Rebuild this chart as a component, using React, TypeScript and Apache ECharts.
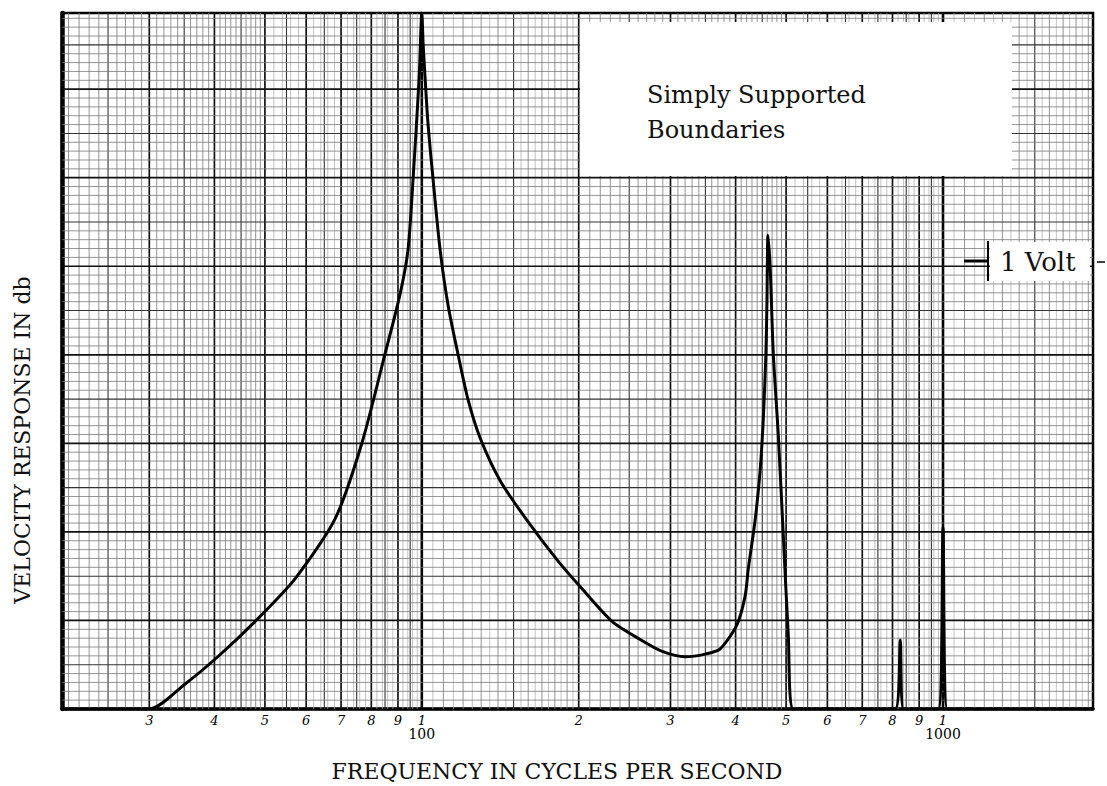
import React, { useEffect, useRef } from "react";
import * as echarts from "echarts";

// ---- axis extents (frequency in cycles per second, response in grid units: 10 per major division)
const X_MIN = 20.4;
const X_MAX = 1940;
const Y_MIN = 0;
const Y_MAX = 78.6;

// ---- curve
const frequency = [
  20.4, 30, 35.1, 40.6, 47.9, 57.1, 68.2, 76.8, 85.0, 90.8,
  94.1, 96.2, 98.8, 100, 100.6, 101.5, 102.8, 105.1, 108.4, 112.3,
  117.4, 122.7, 129.4, 141.3, 159.2, 182.6, 202.8, 231.6, 262.4, 289.3,
  320.2, 349.8, 373.7, 402.3, 417.3, 423, 436.2, 445.9, 452.0, 457.4,
  459.4, 461.5, 466.2, 472.4, 483.1, 493.8, 504.9, 516.1, 809.7, 828,
  840, 979.6, 1000, 1019, 1940,
];
const response = [
  0, 0, 2.8, 5.9, 9.9, 14.7, 21.5, 30.1, 40.1, 46.8,
  51.9, 59.8, 71.1, 78.6, 75.0, 71.1, 66.0, 59.8, 51.9, 45.6,
  40.0, 34.9, 30.6, 25.8, 21.3, 16.7, 13.6, 9.9, 7.85, 6.5,
  5.9, 6.2, 6.8, 9.5, 12.8, 15.8, 21.4, 27.0, 32.7, 40.2,
  45.9, 53.5, 49.6, 40.2, 30.9, 19.6, 8.3, 0, 0, 7.8,
  0, 0, 20.5, 0, 0,
];

// ---- tick labels on the frequency axis
const tickValues = [30, 40, 50, 60, 70, 80, 90, 100, 200, 300, 400, 500, 600, 700, 800, 900, 1000];
const tickDigits = ["3", "4", "5", "6", "7", "8", "9", "1", "2", "3", "4", "5", "6", "7", "8", "9", "1"];
const decadeLabels: Record<number, string> = { 100: "100", 1000: "1000" };

// ---- texts
const xTitle = "FREQUENCY IN CYCLES PER SECOND";
const yTitle = "VELOCITY RESPONSE IN db";
const noteLines = ["Simply Supported", "Boundaries"];
const voltLabel = "1 Volt";

// ---- graph-paper rulings (positions of the printed grid, not data)
function buildRulings(): number[][] {
  const items: number[][] = [];
  const decades = [10, 100, 1000];
  for (const d of decades) {
    for (let k = 100; k < 1000; k += 5) {
      const v = Math.round((k / 100) * d * 1000) / 1000;
      if (v <= X_MIN || v >= X_MAX) continue;
      let level: number;
      if (k % 100 === 0) level = k === 100 ? 3 : 2;
      else if (k % 50 === 0) level = 1;
      else if (k < 200) level = k % 10 === 0 ? 0 : -1;
      else if (k < 500) {
        if (k % 10 !== 0) continue;
        level = 0;
      } else {
        if (k % 20 !== 0) continue;
        level = -1;
      }
      items.push([v, Y_MIN, level, 0]);
    }
  }
  for (let j = 1; j < Y_MAX; j += 1) {
    const level = j % 10 === 0 ? 2 : j % 5 === 0 ? 1 : 0;
    items.push([X_MIN, j, level, 1]);
  }
  return items;
}

const rulingStyle: Record<number, { stroke: string; lineWidth: number }> = {
  3: { stroke: "#000", lineWidth: 2.6 },
  2: { stroke: "#111", lineWidth: 1.7 },
  1: { stroke: "#333", lineWidth: 1.1 },
  0: { stroke: "#7a7a7a", lineWidth: 0.8 },
  [-1]: { stroke: "#a8a8a8", lineWidth: 0.7 },
};

export default function App() {
  const ref = useRef<HTMLDivElement | null>(null);

  useEffect(() => {
    document.body.style.margin = "0";
    if (!ref.current) return;
    const chart = echarts.init(ref.current, null, { renderer: "svg" });
    const serif = "DejaVu Serif";

    const option: any = {
      animation: false,
      backgroundColor: "#fff",
      grid: {
        left: 62,
        right: 14,
        top: 13,
        bottom: 77,
        show: true,
        borderColor: "#000",
        borderWidth: 2.5,
        backgroundColor: "transparent",
      },
      xAxis: {
        type: "log",
        logBase: 10,
        min: X_MIN,
        max: X_MAX,
        axisLine: { show: true, onZero: false, lineStyle: { color: "#000", width: 3.5 } },
        axisTick: { show: false },
        splitLine: { show: false },
        axisLabel: {
          customValues: tickValues,
          margin: 5,
          color: "#000",
          formatter: (value: number) => {
            const idx = tickValues.findIndex((t) => Math.abs(t - value) < 1e-6 * t);
            const digit = idx >= 0 ? tickDigits[idx] : "";
            const rounded = Math.round(value);
            if (decadeLabels[rounded]) return `{n|${digit}}\n{d|${decadeLabels[rounded]}}`;
            return `{n|${digit}}`;
          },
          rich: {
            n: { fontFamily: serif, fontStyle: "italic", fontSize: 13, lineHeight: 13, color: "#000" },
            d: { fontFamily: serif, fontSize: 14, lineHeight: 14, color: "#000" },
          },
        },
      },
      yAxis: {
        type: "value",
        min: Y_MIN,
        max: Y_MAX,
        axisLine: { show: true, onZero: false, lineStyle: { color: "#000", width: 4.5 } },
        axisTick: { show: false },
        axisLabel: { show: false },
        splitLine: { show: false },
      },
      series: [
        {
          type: "custom",
          name: "grid paper",
          coordinateSystem: "cartesian2d",
          silent: true,
          z: 1,
          encode: { x: 0, y: 1 },
          data: buildRulings(),
          renderItem: (_params: any, api: any) => {
            const level = api.value(2);
            const orient = api.value(3);
            let p1: number[];
            let p2: number[];
            if (orient === 0) {
              const v = api.value(0);
              p1 = api.coord([v, Y_MIN]);
              p2 = api.coord([v, Y_MAX]);
            } else {
              const v = api.value(1);
              p1 = api.coord([X_MIN, v]);
              p2 = api.coord([X_MAX, v]);
            }
            const st = rulingStyle[level] || rulingStyle[0];
            return {
              type: "line",
              shape: { x1: p1[0], y1: p1[1], x2: p2[0], y2: p2[1] },
              style: { stroke: st.stroke, lineWidth: st.lineWidth },
            };
          },
        },
        {
          type: "line",
          name: "Velocity response",
          data: frequency.map((f, i) => [f, response[i]]),
          symbol: "none",
          smooth: 0.25,
          clip: true,
          z: 5,
          lineStyle: { color: "#000", width: 3 },
        },
      ],
      graphic: [
        {
          type: "rect",
          z: 100,
          shape: { x: 580, y: 22, width: 432, height: 154 },
          style: { fill: "#fff" },
        },
        {
          type: "text",
          z: 101,
          x: 647,
          y: 95,
          style: { text: noteLines[0], font: `24px "${serif}"`, fill: "#111", textVerticalAlign: "middle" },
        },
        {
          type: "text",
          z: 101,
          x: 647,
          y: 130,
          style: { text: noteLines[1], font: `24px "${serif}"`, fill: "#111", textVerticalAlign: "middle" },
        },
        {
          type: "rect",
          z: 100,
          shape: { x: 990, y: 242, width: 100, height: 39 },
          style: { fill: "#fff" },
        },
        {
          type: "line",
          z: 101,
          shape: { x1: 988, y1: 241, x2: 988, y2: 281 },
          style: { stroke: "#000", lineWidth: 2 },
        },
        {
          type: "line",
          z: 101,
          shape: { x1: 964, y1: 261, x2: 988, y2: 261 },
          style: { stroke: "#000", lineWidth: 3 },
        },
        {
          type: "text",
          z: 101,
          x: 1000,
          y: 262,
          style: { text: voltLabel, font: `26px "${serif}"`, fill: "#111", textVerticalAlign: "middle" },
        },
        {
          type: "line",
          z: 101,
          shape: { x1: 1097, y1: 262, x2: 1105, y2: 262 },
          style: { stroke: "#000", lineWidth: 1.5 },
        },
        {
          type: "text",
          z: 101,
          x: 557,
          y: 771,
          style: {
            text: xTitle,
            font: `22px "${serif}"`,
            fill: "#111",
            textAlign: "center",
            textVerticalAlign: "middle",
          },
        },
        {
          type: "text",
          z: 101,
          x: 22,
          y: 440,
          rotation: Math.PI / 2,
          style: {
            text: yTitle,
            font: `22px "${serif}"`,
            fill: "#111",
            textAlign: "center",
            textVerticalAlign: "middle",
          },
        },
      ],
    };

    chart.setOption(option);
    return () => {
      chart.dispose();
    };
  }, []);

  return <div ref={ref} style={{ width: 1107, height: 786 }} />;
}
